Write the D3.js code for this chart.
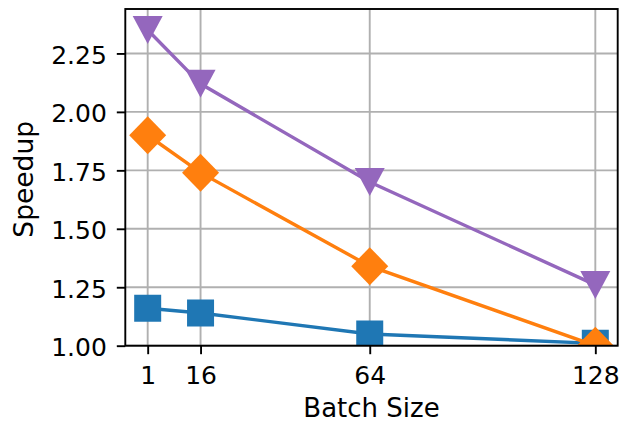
<!DOCTYPE html>
<html>
<head>
<meta charset="utf-8">
<script src="https://cdn.jsdelivr.net/npm/d3@7"></script>
<style>
  body { margin: 0; background: #fff; }
  text { font-family: "DejaVu Sans", sans-serif; fill: #000; }
</style>
</head>
<body>
<div id="chart"></div>
<script>
var batchSizes = [1, 16, 64, 128];
var blueSeries = [1.16, 1.14, 1.05, 1.01];
var orangeSeries = [1.90, 1.74, 1.34, 1.00];
var purpleSeries = [2.35, 2.12, 1.70, 1.26];
var yTicks = [1.00, 1.25, 1.50, 1.75, 2.00, 2.25];

var width = 623, height = 423;
var margin = { top: 9, right: 5.3, bottom: 77.3, left: 125.3 };
var plotW = width - margin.left - margin.right;
var plotH = height - margin.top - margin.bottom;

var svg = d3.select('#chart').append('svg')
  .attr('width', width).attr('height', height);

// x domain with matplotlib-like 5% margins
var span = batchSizes[batchSizes.length - 1] - batchSizes[0];
var x = d3.scaleLinear()
  .domain([batchSizes[0] - span * 0.05, batchSizes[batchSizes.length - 1] + span * 0.05])
  .range([0, plotW]);
var y = d3.scaleLinear().domain([1.0, 2.44]).range([plotH, 0]);

var g = svg.append('g').attr('transform', 'translate(' + margin.left + ',' + margin.top + ')');

svg.append('defs').append('clipPath').attr('id', 'plot-clip')
  .append('rect').attr('width', plotW).attr('height', plotH);

// grid
g.append('g').selectAll('line').data(batchSizes).enter().append('line')
  .attr('x1', d => x(d)).attr('x2', d => x(d))
  .attr('y1', 0).attr('y2', plotH)
  .attr('stroke', '#b0b0b0').attr('stroke-width', 1.9);
g.append('g').selectAll('line').data(yTicks).enter().append('line')
  .attr('x1', 0).attr('x2', plotW)
  .attr('y1', d => y(d)).attr('y2', d => y(d))
  .attr('stroke', '#b0b0b0').attr('stroke-width', 1.9);

var series = [
  { values: blueSeries, color: '#1f77b4', marker: 'square' },
  { values: orangeSeries, color: '#ff7f0e', marker: 'diamond' },
  { values: purpleSeries, color: '#9467bd', marker: 'tri' }
];

var line = d3.line().x((d, i) => x(batchSizes[i])).y(d => y(d));

function markerPath(type) {
  if (type === 'square') return 'M-13.5,-13.5H13.5V13.5H-13.5Z';
  if (type === 'diamond') return 'M0,-19L18.5,0L0,19L-18.5,0Z';
  return 'M-15,-14L15,-14L0,14Z';
}

var plot = g.append('g').attr('clip-path', 'url(#plot-clip)');
series.forEach(function (s) {
  var sg = plot.append('g');
  sg.append('path').datum(s.values)
    .attr('d', line).attr('fill', 'none')
    .attr('stroke', s.color).attr('stroke-width', 3.4);
  sg.selectAll('path.m').data(s.values).enter().append('path')
    .attr('class', 'm')
    .attr('transform', (d, i) => 'translate(' + x(batchSizes[i]) + ',' + y(d) + ')')
    .attr('d', markerPath(s.marker))
    .attr('fill', s.color);
});

// axes
var xAxis = d3.axisBottom(x).tickValues(batchSizes).tickSize(8.5).tickPadding(12).tickFormat(d3.format('d'));
var yAxis = d3.axisLeft(y).tickValues(yTicks).tickSize(8.5).tickPadding(10).tickFormat(d3.format('.2f'));

var gx = g.append('g').attr('transform', 'translate(0,' + plotH + ')').call(xAxis);
var gy = g.append('g').call(yAxis);
[gx, gy].forEach(function (a) {
  a.select('.domain').remove();
  a.selectAll('line').attr('stroke', '#000').attr('stroke-width', 1.9);
  a.selectAll('text').style('font-size', '25px').attr('fill', '#000');
});
gy.selectAll('text').attr('dy', '0.4em');

// frame
g.append('rect').attr('width', plotW).attr('height', plotH)
  .attr('fill', 'none').attr('stroke', '#000').attr('stroke-width', 1.9);

svg.append('text').attr('x', margin.left + plotW / 2).attr('y', 417)
  .attr('text-anchor', 'middle').style('font-size', '26px').text('Batch Size');
svg.append('text')
  .attr('transform', 'translate(33,' + (margin.top + plotH / 2 + 2) + ') rotate(-90)')
  .attr('text-anchor', 'middle').style('font-size', '26.5px').text('Speedup');
</script>
</body>
</html>
